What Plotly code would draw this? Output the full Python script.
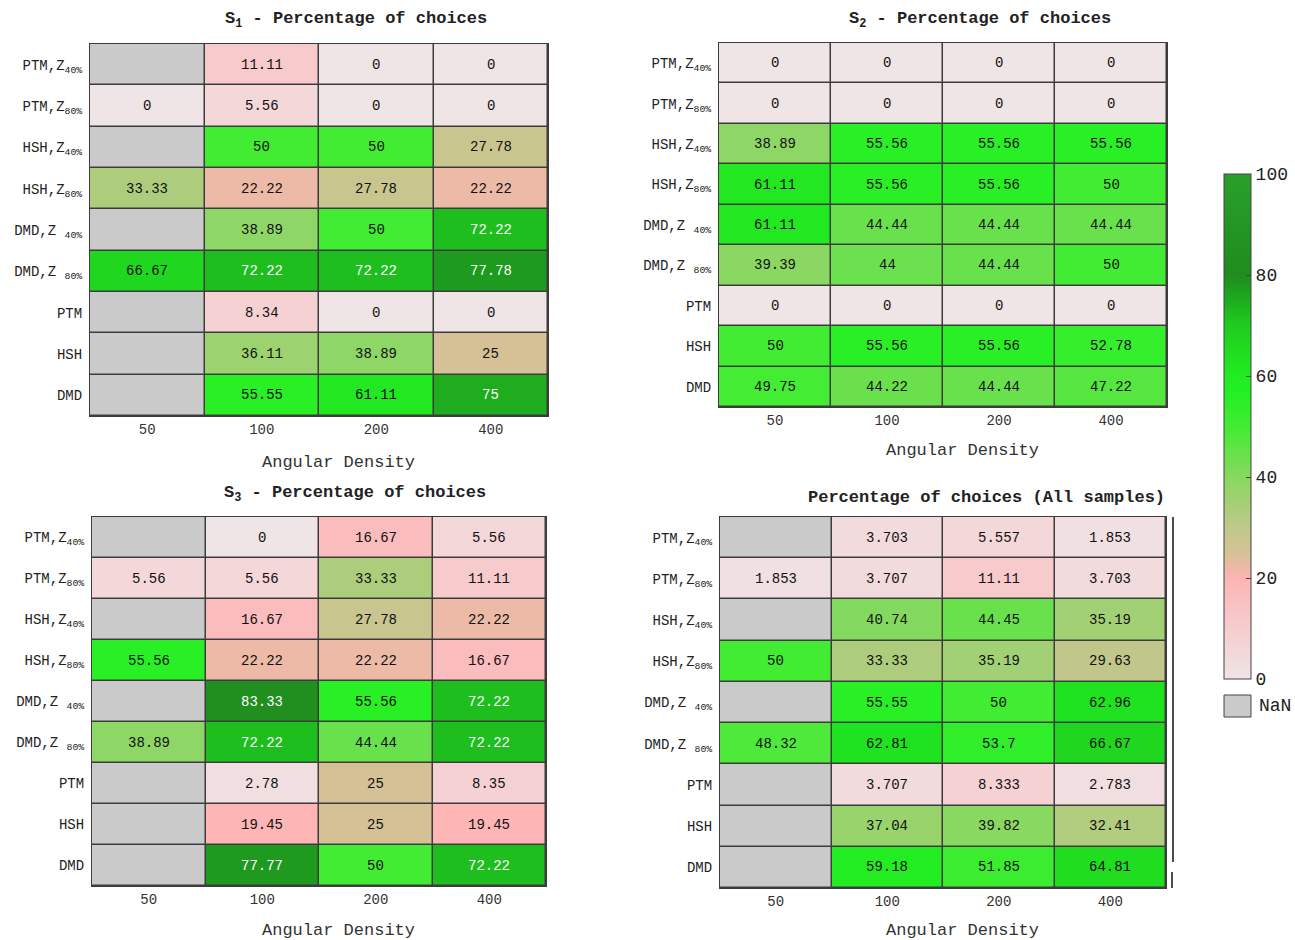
import math
import plotly.graph_objects as go

nan = float("nan")

columns = ["50", "100", "200", "400"]
rows = ["PTM,Z<sub>40%</sub>", "PTM,Z<sub>80%</sub>", "HSH,Z<sub>40%</sub>", "HSH,Z<sub>80%</sub>",
        "DMD,Z <sub>40%</sub>", "DMD,Z <sub>80%</sub>", "PTM", "HSH", "DMD"]

s1_values = [
    [nan, 11.11, 0, 0],
    [0, 5.56, 0, 0],
    [nan, 50, 50, 27.78],
    [33.33, 22.22, 27.78, 22.22],
    [nan, 38.89, 50, 72.22],
    [66.67, 72.22, 72.22, 77.78],
    [nan, 8.34, 0, 0],
    [nan, 36.11, 38.89, 25],
    [nan, 55.55, 61.11, 75],
]
s2_values = [
    [0, 0, 0, 0],
    [0, 0, 0, 0],
    [38.89, 55.56, 55.56, 55.56],
    [61.11, 55.56, 55.56, 50],
    [61.11, 44.44, 44.44, 44.44],
    [39.39, 44, 44.44, 50],
    [0, 0, 0, 0],
    [50, 55.56, 55.56, 52.78],
    [49.75, 44.22, 44.44, 47.22],
]
s3_values = [
    [nan, 0, 16.67, 5.56],
    [5.56, 5.56, 33.33, 11.11],
    [nan, 16.67, 27.78, 22.22],
    [55.56, 22.22, 22.22, 16.67],
    [nan, 83.33, 55.56, 72.22],
    [38.89, 72.22, 44.44, 72.22],
    [nan, 2.78, 25, 8.35],
    [nan, 19.45, 25, 19.45],
    [nan, 77.77, 50, 72.22],
]
all_values = [
    [nan, 3.703, 5.557, 1.853],
    [1.853, 3.707, 11.11, 3.703],
    [nan, 40.74, 44.45, 35.19],
    [50, 33.33, 35.19, 29.63],
    [nan, 55.55, 50, 62.96],
    [48.32, 62.81, 53.7, 66.67],
    [nan, 3.707, 8.333, 2.783],
    [nan, 37.04, 39.82, 32.41],
    [nan, 59.18, 51.85, 64.81],
]

titles = ["<b>S<sub>1</sub> - Percentage of choices</b>",
          "<b>S<sub>2</sub> - Percentage of choices</b>",
          "<b>S<sub>3</sub> - Percentage of choices</b>",
          "<b>Percentage of choices (All samples)</b>"]
x_title = "Angular Density"
colorbar_ticks = [0, 20, 40, 60, 80, 100]

W, H = 1295, 940
FONT = "Liberation Mono"

colorscale = [
    [0.0, "#efe4e6"],
    [0.1, "#f6cdcf"],
    [0.2, "#fdb4b4"],
    [0.25, "#d6c196"],
    [0.3, "#bfc88a"],
    [0.4, "#88d860"],
    [0.5, "#42ec32"],
    [0.57, "#22f022"],
    [0.6, "#21ec21"],
    [0.7, "#1fcc1f"],
    [0.8, "#1e8c1e"],
    [1.0, "#2aa02a"],
]

# pixel boxes: (left, right, top, bottom)
boxes = [(90, 548, 44, 416), (719, 1167, 43, 407), (92, 546, 517, 886), (720, 1166, 517, 888)]
title_pos = [(356, 20, "center"), (980, 20, "center"), (355, 494, "center"), (1167, 497, "right")]
xtitle_pos = [(338, 462), (962, 450), (338, 930), (962, 930)]

px = lambda x: x / W
py = lambda y: 1 - y / H

col_idx = list(range(len(columns)))
row_idx = list(range(len(rows)))

fig = go.Figure()
annotations = []
layout = {}
datasets = [s1_values, s2_values, s3_values, all_values]

for i, (vals, box) in enumerate(zip(datasets, boxes)):
    n = "" if i == 0 else str(i + 1)
    xa, ya = "x" + n, "y" + n
    nan_mask = [[1 if (isinstance(v, float) and math.isnan(v)) else None for v in r] for r in vals]
    fig.add_trace(go.Heatmap(z=nan_mask, x=col_idx, y=row_idx, xaxis=xa, yaxis=ya,
                             colorscale=[[0, "#cacaca"], [1, "#cacaca"]], showscale=False,
                             xgap=1.5, ygap=1.5, hoverinfo="skip"))
    fig.add_trace(go.Heatmap(z=vals, x=col_idx, y=row_idx, xaxis=xa, yaxis=ya,
                             colorscale=colorscale, zmin=0, zmax=100,
                             xgap=1.5, ygap=1.5, showscale=(i == 0),
                             colorbar=dict(
                                 x=px(1224), xanchor="left", y=py((174 + 679) / 2), yanchor="middle",
                                 len=505, lenmode="pixels", thickness=27, thicknessmode="pixels",
                                 xpad=0, ypad=0, outlinecolor="#444", outlinewidth=1,
                                 tickvals=colorbar_ticks, ticks="inside", ticklen=5, tickcolor="#444",
                                 tickfont=dict(family=FONT, size=18, color="#222"),
                             )))
    l, r, t, b = box
    layout["xaxis" + n] = dict(domain=[px(l), px(r)], anchor=ya, range=[-0.5, len(columns) - 0.5],
                               tickvals=col_idx, ticktext=columns,
                               showgrid=False, zeroline=False, ticks="", showline=True, mirror=True,
                               linecolor="#3c3c3c", linewidth=1,
                               tickfont=dict(family=FONT, size=14, color="#333"))
    layout["yaxis" + n] = dict(domain=[py(b), py(t)], anchor=xa, range=[len(rows) - 0.5, -0.5],
                               tickvals=row_idx, ticktext=rows,
                               showgrid=False, zeroline=False, ticks="",
                               showline=True, mirror=True, linecolor="#3c3c3c", linewidth=1,
                               ticklabelstandoff=4,
                               tickfont=dict(family=FONT, size=14, color="#222"))
    for ri in row_idx:
        for ci in col_idx:
            v = vals[ri][ci]
            if isinstance(v, float) and math.isnan(v):
                continue
            annotations.append(dict(x=ci, y=ri, xref=xa, yref=ya, text=f"{v:g}",
                                    showarrow=False,
                                    font=dict(family=FONT, size=14,
                                              color="white" if v >= 70 else "#111")))
    tx, ty, al = title_pos[i]
    annotations.append(dict(x=px(tx), y=py(ty), xref="paper", yref="paper", text=titles[i],
                            showarrow=False, xanchor=al, yanchor="middle",
                            font=dict(family=FONT, size=17, color="#222")))
    ax, ay = xtitle_pos[i]
    annotations.append(dict(x=px(ax), y=py(ay), xref="paper", yref="paper", text=x_title,
                            showarrow=False, xanchor="center", yanchor="middle",
                            font=dict(family=FONT, size=17, color="#333")))

# NaN legend
annotations.append(dict(x=px(1257), y=py(706), xref="paper", yref="paper", text="NaN",
                        showarrow=False, xanchor="left", yanchor="middle",
                        font=dict(family=FONT, size=18, color="#222")))
shapes = [
    dict(type="rect", xref="paper", yref="paper", x0=px(1224), x1=px(1251), y0=py(717), y1=py(695),
         fillcolor="#cacaca", line=dict(color="#444", width=1)),
    dict(type="line", xref="paper", yref="paper", x0=px(1173), x1=px(1173), y0=py(517), y1=py(862),
         line=dict(color="#111", width=1.5)),
    dict(type="line", xref="paper", yref="paper", x0=px(1172), x1=px(1172), y0=py(872), y1=py(888),
         line=dict(color="#111", width=1.5)),
]

fig.update_layout(width=W, height=H, margin=dict(l=0, r=0, t=0, b=0),
                  paper_bgcolor="white", plot_bgcolor="#3c3c3c",
                  annotations=annotations, shapes=shapes, **layout)

fig.write_html("out.html", config={"displayModeBar": False},
               post_script="document.body.style.margin='0';document.body.style.overflow='hidden';")
